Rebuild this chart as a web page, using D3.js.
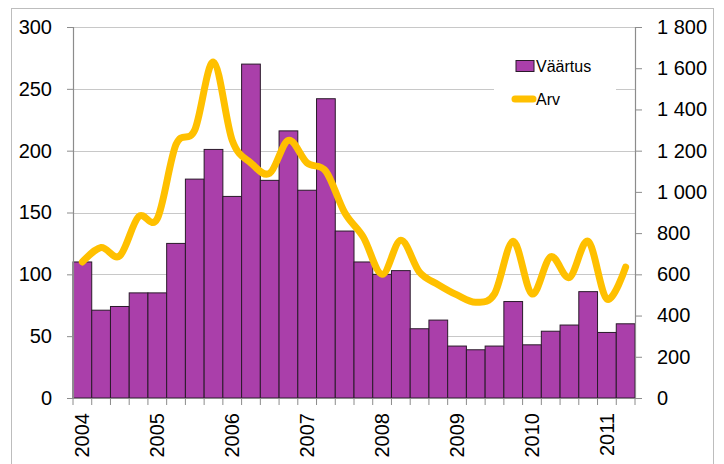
<!DOCTYPE html>
<html>
<head>
<meta charset="utf-8">
<script src="https://cdn.jsdelivr.net/npm/d3@7"></script>
<style>
  body { margin: 0; background: #fff; }
  text { font-family: "Liberation Sans", Arial, sans-serif; fill: #000; }
</style>
</head>
<body>
<div id="chart"></div>
<script>
// quarters 2004 Q1 .. 2011 Q2
const years = [2004, 2005, 2006, 2007, 2008, 2009, 2010, 2011];
const quarters = d3.range(30).map(i => `${years[Math.floor(i / 4)]}-${i % 4 + 1}`);

const vaartus = [110, 71, 74, 85, 85, 125, 177, 201, 163, 270,
                 176, 216, 168, 242, 135, 110, 100, 103, 56, 63,
                 42, 39, 42, 78, 43, 54, 59, 86, 53, 60];

const arv = [660, 730, 690, 880, 870, 1230, 1300, 1630, 1250, 1140,
             1090, 1250, 1140, 1100, 900, 780, 600, 765, 610, 550,
             500, 465, 505, 760, 505, 685, 585, 760, 480, 635];

const leftTicks = [0, 50, 100, 150, 200, 250, 300];
const rightTicks = [0, 200, 400, 600, 800, 1000, 1200, 1400, 1600, 1800];

const width = 724, height = 464;
const plot = { left: 73, right: 635, top: 27, bottom: 398 };

const svg = d3.select("#chart").append("svg")
    .attr("width", width)
    .attr("height", height);

// outer chart border
svg.append("rect")
    .attr("x", 11.5).attr("y", 8.5)
    .attr("width", 702).attr("height", 480)
    .attr("fill", "none")
    .attr("stroke", "#bdbdbd");

const x = d3.scaleBand()
    .domain(quarters)
    .range([plot.left, plot.right])
    .padding(0);

const yLeft = d3.scaleLinear().domain([0, 300]).range([plot.bottom, plot.top]);
const yRight = d3.scaleLinear().domain([0, 1800]).range([plot.bottom, plot.top]);

// gridlines
svg.append("g")
    .selectAll("line")
    .data(leftTicks)
    .join("line")
    .attr("x1", plot.left).attr("x2", plot.right)
    .attr("y1", d => Math.round(yLeft(d)) + 0.5)
    .attr("y2", d => Math.round(yLeft(d)) + 0.5)
    .attr("stroke", "#c8c8c8")
    .attr("stroke-width", 1.2);

// bars
svg.append("g")
    .selectAll("rect")
    .data(vaartus)
    .join("rect")
    .attr("x", (d, i) => x(quarters[i]))
    .attr("y", d => yLeft(d))
    .attr("width", x.bandwidth())
    .attr("height", d => yLeft(0) - yLeft(d))
    .attr("fill", "#aa3faa")
    .attr("stroke", "#2a1a2a")
    .attr("stroke-width", 1);

// smoothed line on right axis
const line = d3.line()
    .x((d, i) => x(quarters[i]) + x.bandwidth() / 2)
    .y(d => yRight(d))
    .curve(d3.curveCardinal.tension(0));

svg.append("path")
    .datum(arv)
    .attr("d", line)
    .attr("fill", "none")
    .attr("stroke", "#ffc000")
    .attr("stroke-width", 7)
    .attr("stroke-linecap", "round")
    .attr("stroke-linejoin", "round");

// axes
const axisColor = "#8c8c8c";

const gLeft = svg.append("g")
    .attr("transform", `translate(${plot.left},0)`)
    .call(d3.axisLeft(yLeft).tickValues(leftTicks).tickSize(6).tickPadding(15));

const gRight = svg.append("g")
    .attr("transform", `translate(${plot.right},0)`)
    .call(d3.axisRight(yRight).tickValues(rightTicks).tickSize(7).tickPadding(15)
        .tickFormat(d => d3.format(",")(d).replace(",", " ")));

const gBottom = svg.append("g")
    .attr("transform", `translate(0,${plot.bottom})`)
    .call(d3.axisBottom(x).tickSize(0).tickFormat(""));

// category boundary ticks
gBottom.selectAll(".cat-tick")
    .data(d3.range(31))
    .join("line")
    .attr("class", "cat-tick")
    .attr("x1", i => plot.left + i * x.step())
    .attr("x2", i => plot.left + i * x.step())
    .attr("y1", 0).attr("y2", 7)
    .attr("stroke", axisColor);

// year labels, rotated
svg.append("g")
    .selectAll("text")
    .data(years)
    .join("text")
    .attr("transform", (d, i) => {
        const cx = x(quarters[i * 4]) + x.bandwidth() / 2;
        return `translate(${cx + 7},${plot.bottom + 15}) rotate(-90)`;
    })
    .attr("text-anchor", "end")
    .style("font-size", "20px")
    .text(d => d);

[gLeft, gRight, gBottom].forEach(g => {
    g.select(".domain").attr("stroke", axisColor).attr("stroke-width", 1.2);
    g.selectAll(".tick line").attr("stroke", axisColor);
    g.selectAll(".tick text").style("font-size", "20px").attr("font-family", null);
});

// legend
const legend = svg.append("g");
legend.append("rect")
    .attr("x", 494).attr("y", 48)
    .attr("width", 122).attr("height", 62)
    .attr("fill", "#fff");

legend.append("rect")
    .attr("x", 516).attr("y", 60.5)
    .attr("width", 18).attr("height", 11)
    .attr("fill", "#aa3faa")
    .attr("stroke", "#2a1a2a");
legend.append("text")
    .attr("x", 536).attr("y", 72)
    .style("font-size", "16px")
    .text("Väärtus");

legend.append("line")
    .attr("x1", 515).attr("x2", 533)
    .attr("y1", 99).attr("y2", 99)
    .attr("stroke", "#ffc000")
    .attr("stroke-width", 7)
    .attr("stroke-linecap", "round");
legend.append("text")
    .attr("x", 536).attr("y", 105)
    .style("font-size", "16px")
    .text("Arv");
</script>
</body>
</html>
